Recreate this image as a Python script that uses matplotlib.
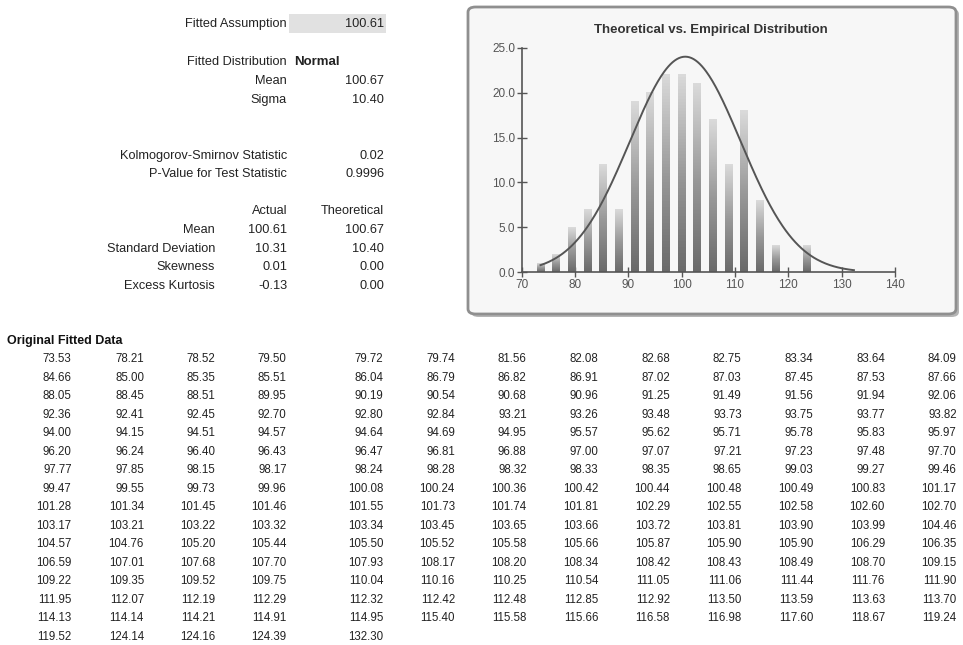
import numpy as np
import matplotlib
matplotlib.use('Agg')
import matplotlib.pyplot as plt
from matplotlib.patches import FancyBboxPatch, Rectangle
from matplotlib.colors import LinearSegmentedColormap

# Summary statistics shown on the left
fit_labels = ['Mean', 'Sigma']
fit_values = ['100.67', '10.40']
ks_labels = ['Kolmogorov-Smirnov Statistic', 'P-Value for Test Statistic']
ks_values = ['0.02', '0.9996']
moment_labels = ['Mean', 'Standard Deviation', 'Skewness', 'Excess Kurtosis']
actual_values = ['100.61', '10.31', '0.01', '-0.13']
theoretical_values = ['100.67', '10.40', '0.00', '0.00']

fit_mean = 100.67
fit_sigma = 10.40
curve_peak = 24.0   # height of the fitted curve
n_bins = 20

# Original fitted data (200 values, 13 per row)
data = [
    73.53, 78.21, 78.52, 79.50, 79.72, 79.74, 81.56, 82.08, 82.68, 82.75, 83.34, 83.64, 84.09,
    84.66, 85.00, 85.35, 85.51, 86.04, 86.79, 86.82, 86.91, 87.02, 87.03, 87.45, 87.53, 87.66,
    88.05, 88.45, 88.51, 89.95, 90.19, 90.54, 90.68, 90.96, 91.25, 91.49, 91.56, 91.94, 92.06,
    92.36, 92.41, 92.45, 92.70, 92.80, 92.84, 93.21, 93.26, 93.48, 93.73, 93.75, 93.77, 93.82,
    94.00, 94.15, 94.51, 94.57, 94.64, 94.69, 94.95, 95.57, 95.62, 95.71, 95.78, 95.83, 95.97,
    96.20, 96.24, 96.40, 96.43, 96.47, 96.81, 96.88, 97.00, 97.07, 97.21, 97.23, 97.48, 97.70,
    97.77, 97.85, 98.15, 98.17, 98.24, 98.28, 98.32, 98.33, 98.35, 98.65, 99.03, 99.27, 99.46,
    99.47, 99.55, 99.73, 99.96, 100.08, 100.24, 100.36, 100.42, 100.44, 100.48, 100.49, 100.83, 101.17,
    101.28, 101.34, 101.45, 101.46, 101.55, 101.73, 101.74, 101.81, 102.29, 102.55, 102.58, 102.60, 102.70,
    103.17, 103.21, 103.22, 103.32, 103.34, 103.45, 103.65, 103.66, 103.72, 103.81, 103.90, 103.99, 104.46,
    104.57, 104.76, 105.20, 105.44, 105.50, 105.52, 105.58, 105.66, 105.87, 105.90, 105.90, 106.29, 106.35,
    106.59, 107.01, 107.68, 107.70, 107.93, 108.17, 108.20, 108.34, 108.42, 108.43, 108.49, 108.70, 109.15,
    109.22, 109.35, 109.52, 109.75, 110.04, 110.16, 110.25, 110.54, 111.05, 111.06, 111.44, 111.76, 111.90,
    111.95, 112.07, 112.19, 112.29, 112.32, 112.42, 112.48, 112.85, 112.92, 113.50, 113.59, 113.63, 113.70,
    114.13, 114.14, 114.21, 114.91, 114.95, 115.40, 115.58, 115.66, 116.58, 116.98, 117.60, 118.67, 119.24,
    119.52, 124.14, 124.16, 124.39, 132.30,
]

W, H = 963, 645
plt.rcParams['font.family'] = ['Liberation Sans', 'DejaVu Sans']
fig = plt.figure(figsize=(W / 100, H / 100), dpi=100)
fig.patch.set_facecolor('white')


# pixel position -> figure fraction
def fx(x):
    return x / W


def fy(y):
    return 1 - y / H


def label(x, y, s, ha='right', fontsize=9.2, **kw):
    fig.text(fx(x), fy(y), s, ha=ha, va='center', fontsize=fontsize, color='#222222', **kw)


# ---- left summary block ----
fig.patches.append(Rectangle((fx(289), fy(33)), fx(97), 19 / H, transform=fig.transFigure,
                             facecolor='#e1e1e1', edgecolor='none'))
label(287, 24, 'Fitted Assumption')
label(384, 24, '100.61')
label(287, 62, 'Fitted Distribution')
label(294, 62, 'Normal', ha='left', fontweight='bold', fontsize=9.5)
for i in range(len(fit_labels)):
    label(287, 81 + i * 19, fit_labels[i])
    label(384, 81 + i * 19, fit_values[i])
for i in range(len(ks_labels)):
    label(287, 156 + i * 18.5, ks_labels[i])
    label(384, 156 + i * 18.5, ks_values[i])
label(287, 211, 'Actual')
label(384, 211, 'Theoretical')
for i in range(len(moment_labels)):
    yy = 230 + i * 18.6
    label(215, yy, moment_labels[i])
    label(287, yy, actual_values[i])
    label(384, yy, theoretical_values[i])

# ---- data table ----
fig.text(fx(7), fy(341), 'Original Fitted Data', ha='left', va='center',
         fontsize=9, fontweight='bold', color='#111111')
col_right = [71.7, 144, 215.3, 286.7, 383.3, 455, 526.7, 598.3, 670, 741.7, 813.3, 885, 956.7]
for k, v in enumerate(data):
    r, c = divmod(k, 13)
    fig.text(fx(col_right[c]), fy(359.3 + r * 18.5), '%.2f' % v, ha='right', va='center',
             fontsize=8.3, color='#222222')

# ---- chart box ----
shadow = FancyBboxPatch((fx(471), fy(317)), fx(488), 308 / H, boxstyle='round,pad=0,rounding_size=0.008',
                        transform=fig.transFigure, facecolor='#b5b5b5', edgecolor='none')
box = FancyBboxPatch((fx(468), fy(314)), fx(488), 307 / H, boxstyle='round,pad=0,rounding_size=0.008',
                     transform=fig.transFigure, facecolor='#f7f7f7', edgecolor='#8f8f8f', linewidth=2)
fig.patches.extend([shadow, box])

ax = fig.add_axes([fx(521.7), fy(272.3), (895 - 521.7) / W, (272.3 - 47.7) / H])
ax.set_zorder(5)
ax.patch.set_alpha(0)

# half-open bins [lo, hi): the maximum falls outside, as in the original chart
edges = np.linspace(min(data), max(data), n_bins + 1)
idx = np.digitize(data, edges) - 1
counts = np.array([np.sum(idx == b) for b in range(n_bins)])
bar_w = (edges[1] - edges[0]) * 0.48
cmap = LinearSegmentedColormap.from_list('bars', ['#6a6a6a', '#9a9a9a', '#dadada'])
grad = np.linspace(0, 1, 64).reshape(-1, 1)
for x0, h in zip(edges[:-1], counts):
    if h == 0:
        continue
    ax.imshow(grad, extent=[x0 - bar_w / 2, x0 + bar_w / 2, 0, h], origin='lower',
              aspect='auto', cmap=cmap, vmin=0, vmax=1, zorder=2)

xs = np.linspace(min(data), max(data), 300)
ys = curve_peak * np.exp(-0.5 * ((xs - fit_mean) / fit_sigma) ** 2)
ax.plot(xs, ys, color='#555555', linewidth=1.4, zorder=3)

ax.set_xlim(70, 140)
ax.set_ylim(0, 25)
ax.set_xticks(np.arange(70, 141, 10))
ax.set_yticks(np.arange(0, 26, 5))
ax.yaxis.set_major_formatter(matplotlib.ticker.FormatStrFormatter('%.1f'))
for s in ['top', 'right']:
    ax.spines[s].set_visible(False)
for s in ['left', 'bottom']:
    ax.spines[s].set_color('#555555')
    ax.spines[s].set_linewidth(1.2)
ax.tick_params(direction='inout', length=7, width=1, color='#555555', labelsize=8.5,
               labelcolor='#555555', pad=1)

fig.text(fx(711), fy(30), 'Theoretical vs. Empirical Distribution', ha='center', va='center',
         fontsize=9.5, fontweight='bold', color='#333333', zorder=6)

plt.savefig('out.png', dpi=100)
